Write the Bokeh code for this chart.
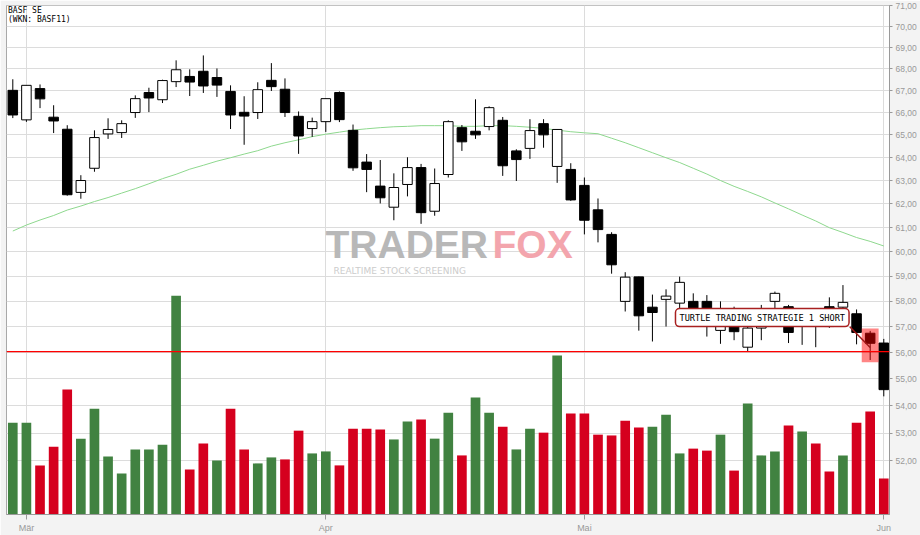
from bokeh.plotting import figure
from bokeh.models import (Range1d, FixedTicker, CustomJSTickFormatter, Label,
                          LinearScale, Span)
from bokeh.embed import file_html
from bokeh.resources import INLINE

# ---------------- data ----------------
opens = [67.01, 65.67, 67.09, 65.79, 65.25, 62.49, 63.53, 65.04, 65.10, 66.00,
         66.91, 66.58, 67.41, 67.65, 67.89, 67.60, 66.96, 66.01, 66.00, 67.47,
         67.06, 65.83, 65.28, 65.59, 66.91, 65.20, 63.80, 62.76, 61.86, 62.83,
         63.56, 61.69, 63.26, 65.32, 65.16, 65.37, 65.65, 64.29, 64.40, 65.50,
         63.61, 63.48, 62.79, 61.75, 60.72, 58.00, 58.98, 57.77, 58.08, 57.93,
         58.00, 58.00, 56.86, 57.25, 56.21, 56.95, 58.00, 57.79, 57.15, 57.45,
         57.79, 57.77, 57.51, 56.75, 56.37]
highs = [67.52, 67.24, 67.28, 66.33, 65.43, 63.23, 65.20, 65.74, 65.65, 66.78,
         67.13, 67.50, 68.40, 67.98, 68.63, 68.02, 67.24, 66.74, 67.38, 68.27,
         67.56, 66.05, 65.77, 66.63, 66.96, 65.46, 64.15, 63.89, 63.31, 64.01,
         63.72, 63.52, 65.65, 65.44, 66.60, 66.28, 65.80, 64.36, 65.70, 65.70,
         65.24, 63.75, 63.13, 62.23, 60.81, 59.17, 58.99, 58.27, 58.48, 58.99,
         58.32, 58.25, 58.00, 57.79, 57.10, 57.86, 58.39, 57.86, 57.60, 57.72,
         58.16, 58.65, 57.68, 56.84, 56.53]
lows = [65.75, 65.58, 66.20, 65.08, 62.35, 62.22, 63.38, 64.82, 64.86, 65.76,
        66.02, 66.43, 67.16, 66.75, 66.89, 66.71, 65.26, 64.56, 65.71, 66.98,
        65.80, 64.16, 64.91, 65.13, 65.57, 63.42, 62.50, 62.02, 61.31, 62.32,
        61.16, 61.50, 63.13, 64.29, 64.82, 65.20, 63.20, 62.98, 63.94, 64.43,
        62.90, 62.13, 60.72, 60.39, 59.11, 57.60, 56.85, 56.43, 57.01, 57.30,
        57.10, 56.62, 56.34, 56.48, 56.04, 56.48, 57.50, 56.37, 56.30, 56.21,
        56.96, 57.55, 56.32, 55.72, 54.35]
closes = [65.89, 67.24, 66.62, 65.62, 62.39, 63.00, 64.88, 65.24, 65.50, 66.63,
          66.66, 67.46, 67.96, 67.39, 67.21, 67.25, 65.89, 65.84, 67.04, 67.18,
          66.00, 64.95, 65.59, 66.63, 65.68, 63.55, 63.48, 62.26, 62.70, 63.56,
          61.63, 62.87, 65.59, 64.69, 65.00, 66.22, 63.64, 63.91, 65.19, 65.00,
          65.24, 62.17, 61.31, 60.92, 59.47, 58.97, 57.43, 57.56, 58.21, 58.76,
          57.50, 57.35, 57.45, 56.81, 56.95, 57.30, 58.32, 56.78, 57.40, 57.20,
          57.01, 57.96, 56.78, 56.36, 54.60]
# volume in millions of shares
volumes = [2.30, 2.30, 1.23, 1.70, 3.13, 1.90, 2.65, 1.45, 1.03, 1.63,
           1.63, 1.75, 5.48, 1.13, 1.78, 1.35, 2.65, 1.63, 1.28, 1.43,
           1.38, 2.10, 1.53, 1.58, 1.23, 2.15, 2.15, 2.13, 1.88, 2.33,
           2.38, 1.90, 2.55, 1.48, 2.93, 2.55, 2.20, 1.63, 2.15, 2.05,
           3.98, 2.53, 2.53, 2.00, 1.98, 2.35, 2.18, 2.20, 2.50, 1.53,
           1.65, 1.60, 2.00, 1.10, 2.78, 1.48, 1.58, 2.23, 2.08, 1.78,
           1.08, 1.48, 2.30, 2.58, 0.90]
sma = [60.86, 61.11, 61.32, 61.51, 61.74, 61.91, 62.10, 62.27, 62.46, 62.65,
       62.86, 63.08, 63.27, 63.49, 63.66, 63.84, 63.99, 64.15, 64.30, 64.50,
       64.65, 64.78, 64.92, 65.03, 65.12, 65.21, 65.27, 65.32, 65.36, 65.38,
       65.41, 65.41, 65.41, 65.38, 65.38, 65.41, 65.41, 65.38, 65.34, 65.29,
       65.21, 65.14, 65.09, 65.05, 64.85, 64.65, 64.43, 64.21, 63.99, 63.78,
       63.53, 63.28, 63.00, 62.75, 62.53, 62.30, 62.04, 61.79, 61.53, 61.28,
       61.00, 60.80, 60.59, 60.43, 60.24]
price_ticks = [52, 53, 54, 55, 56, 57, 58, 59, 60, 61, 62, 63, 64, 65, 66, 67,
               68, 69, 70, 71]
month_ticks = [1, 23, 42, 64]
month_labels = ["Mär", "Apr", "Mai", "Jun"]
signal_level = 56.04
signal_index = 63
signal_text = "TURTLE TRADING STRATEGIE 1 SHORT"
title_lines = ["BASF SE", "(WKN: BASF11)"]

# ---------------- derived ----------------
n = len(opens)
idx = list(range(n))
UP_VOL, DOWN_VOL = "#418241", "#d5001e"
vol_colors = [UP_VOL] + [UP_VOL if closes[i] >= closes[i - 1] else DOWN_VOL
                         for i in range(1, n)]
body_fill = ["white" if c > o else "black" for o, c in zip(opens, closes)]
body_top = [max(o, c) for o, c in zip(opens, closes)]
body_bot = [min(o, c) for o, c in zip(opens, closes)]

p = figure(width=920, height=535,
           x_range=Range1d(-0.463, 64.42),
           y_range=Range1d(50.13, 71.015),
           y_axis_type="log", y_axis_location="right",
           output_backend="svg", toolbar_location=None,
           min_border_left=6, min_border_top=5,
           min_border_right=31, min_border_bottom=20)

p.background_fill_color = "white"
p.border_fill_color = "#f3f3f3"
p.outline_line_color = "#a8a8a8"

# axes
p.yaxis.ticker = FixedTicker(ticks=price_ticks)
p.yaxis.formatter = CustomJSTickFormatter(
    code="return tick.toFixed(2).replace('.', ',');")
p.xaxis.ticker = FixedTicker(ticks=month_ticks)
p.xaxis.major_label_overrides = {t: l for t, l in zip(month_ticks, month_labels)}
for ax, tick_out, fs in ((p.yaxis, 3, "8.5px"), (p.xaxis, 5, "9px")):
    ax.axis_line_color = "#999999"
    ax.major_tick_line_color = "#999999"
    ax.major_tick_out = tick_out
    ax.major_tick_in = 0
    ax.minor_tick_line_color = None
    ax.major_label_text_color = "#999999"
    ax.major_label_text_font = "Liberation Sans"
    ax.major_label_text_font_size = fs
p.yaxis.major_label_standoff = 3
p.xaxis.major_label_standoff = 3
p.xgrid.grid_line_color = "#dcdcdc"
p.ygrid.grid_line_color = "#dcdcdc"

# volume on its own hidden linear scale
p.extra_y_ranges = {"vol": Range1d(0, 12.75)}
p.extra_y_scales = {"vol": LinearScale()}
p.vbar(x=idx, top=volumes, bottom=0, width=0.71, fill_color=vol_colors,
       line_color=None, y_range_name="vol")

# moving average
p.line(idx, sma, line_color="#8ed88e", line_width=1)

# candles
p.segment(x0=idx, y0=lows, x1=idx, y1=highs, line_color="black", line_width=1)
p.vbar(x=idx, top=body_top, bottom=body_bot, width=0.7, fill_color=body_fill,
       line_color="black", line_width=1)

# breakout level
p.add_layout(Span(location=signal_level, dimension="width",
                  line_color="#ff0000", line_width=1.4))

# signal highlight
p.quad(left=[signal_index - 0.62], right=[signal_index + 0.62],
       bottom=[lows[signal_index] / 1.0016], top=[highs[signal_index] * 1.0016],
       fill_color="red", fill_alpha=0.48, line_color=None)
p.segment(x0=[61.5], y0=[57.0], x1=[signal_index], y1=[56.2],
          line_color="#a01818", line_width=1.5)
p.add_layout(Label(x=55.07, y=57.36, text=signal_text,
                   text_align="center", text_baseline="middle",
                   text_font="DejaVu Sans Mono", text_font_size="8.6px",
                   text_color="black",
                   background_fill_color="white", border_line_color="#a82020",
                   border_line_width=1.5, padding=4, border_radius=4))

# title
p.add_layout(Label(x=1.5, y=503.7, x_units="screen", y_units="screen",
                   text=title_lines[0], text_font="DejaVu Sans Mono",
                   text_font_size="8px", text_baseline="middle",
                   text_color="black"))
p.add_layout(Label(x=1.5, y=494.7, x_units="screen", y_units="screen",
                   text=title_lines[1], text_font="DejaVu Sans Mono",
                   text_font_size="8px", text_baseline="middle",
                   text_color="black"))

# watermark logo
p.add_layout(Label(x=319, y=249, x_units="screen", y_units="screen",
                   text="TRADER", text_font="Liberation Sans",
                   text_font_style="bold", text_font_size="39px",
                   text_color="#b8b8b8"))
p.add_layout(Label(x=486, y=249, x_units="screen", y_units="screen",
                   text="FOX", text_font="Liberation Sans",
                   text_font_style="bold", text_font_size="39px",
                   text_color="#f3a5ad"))
p.add_layout(Label(x=327, y=239, x_units="screen", y_units="screen",
                   text="REALTIME STOCK SCREENING", text_font="DejaVu Sans",
                   text_font_size="9px", text_color="#cccccc"))

open("out.html", "w").write(file_html(p, INLINE))
